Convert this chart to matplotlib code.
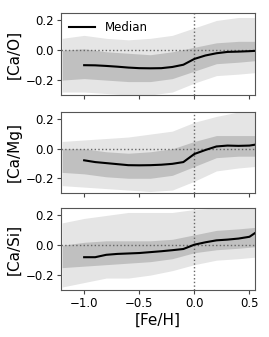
import matplotlib
matplotlib.use("Agg")
import matplotlib.pyplot as plt

# [Fe/H] grid for the median curves
feh_med = [-1.0, -0.9, -0.8, -0.7, -0.6, -0.5, -0.4, -0.3, -0.2, -0.1,
           0.0, 0.1, 0.2, 0.3, 0.4, 0.5, 0.55]

ca_o_med = [-0.100, -0.101, -0.105, -0.110, -0.116, -0.120, -0.121, -0.120,
            -0.112, -0.097, -0.058, -0.035, -0.020, -0.011, -0.009, -0.006, -0.004]
ca_mg_med = [-0.078, -0.090, -0.097, -0.104, -0.111, -0.112, -0.111, -0.108,
             -0.102, -0.090, -0.035, -0.008, 0.016, 0.022, 0.020, 0.022, 0.028]
ca_si_med = [-0.080, -0.080, -0.064, -0.058, -0.055, -0.052, -0.046, -0.040,
             -0.033, -0.025, 0.004, 0.020, 0.033, 0.038, 0.045, 0.057, 0.082]

# [Fe/H] grid for the spread of the star cloud
feh_cloud = [-1.2, -1.0, -0.8, -0.6, -0.4, -0.2, 0.0, 0.2, 0.4, 0.55]

ca_o_outer_lo = [-0.28, -0.28, -0.29, -0.30, -0.30, -0.28, -0.22, -0.17, -0.16, -0.15]
ca_o_outer_hi = [0.08, 0.10, 0.08, 0.07, 0.08, 0.10, 0.15, 0.20, 0.22, 0.22]
ca_o_inner_lo = [-0.20, -0.19, -0.20, -0.21, -0.21, -0.19, -0.14, -0.09, -0.08, -0.07]
ca_o_inner_hi = [0.00, 0.01, -0.01, -0.02, -0.03, -0.01, 0.02, 0.05, 0.06, 0.06]

ca_mg_outer_lo = [-0.25, -0.26, -0.27, -0.28, -0.29, -0.28, -0.22, -0.15, -0.13, -0.12]
ca_mg_outer_hi = [0.05, 0.06, 0.07, 0.08, 0.10, 0.12, 0.18, 0.22, 0.25, 0.25]
ca_mg_inner_lo = [-0.16, -0.17, -0.19, -0.20, -0.20, -0.18, -0.12, -0.06, -0.05, -0.05]
ca_mg_inner_hi = [0.00, 0.00, -0.02, -0.03, -0.02, 0.00, 0.05, 0.09, 0.09, 0.09]

ca_si_outer_lo = [-0.28, -0.25, -0.22, -0.22, -0.20, -0.17, -0.13, -0.10, -0.09, -0.08]
ca_si_outer_hi = [0.15, 0.18, 0.20, 0.22, 0.22, 0.22, 0.24, 0.25, 0.25, 0.25]
ca_si_inner_lo = [-0.15, -0.14, -0.13, -0.12, -0.11, -0.09, -0.05, -0.03, -0.02, -0.01]
ca_si_inner_hi = [0.00, 0.02, 0.03, 0.03, 0.03, 0.04, 0.07, 0.10, 0.11, 0.12]

panels = [
    ("[Ca/O]", ca_o_med, ca_o_outer_lo, ca_o_outer_hi, ca_o_inner_lo, ca_o_inner_hi),
    ("[Ca/Mg]", ca_mg_med, ca_mg_outer_lo, ca_mg_outer_hi, ca_mg_inner_lo, ca_mg_inner_hi),
    ("[Ca/Si]", ca_si_med, ca_si_outer_lo, ca_si_outer_hi, ca_si_inner_lo, ca_si_inner_hi),
]

fig = plt.figure(figsize=(2.69, 3.37), dpi=100)

# axes boxes in pixels: left 61, right 255; tops/bottoms per panel
boxes = [(13, 95), (112, 193), (208, 290)]

for i, (label, med, olo, ohi, ilo, ihi) in enumerate(panels):
    top, bot = boxes[i]
    ax = fig.add_axes([61 / 269, 1 - bot / 337, (255 - 61) / 269, (bot - top) / 337])

    # star cloud: outer sparse envelope and denser core
    ax.fill_between(feh_cloud, olo, ohi, color="#d4d4d4", alpha=0.6, lw=0)
    ax.fill_between(feh_cloud, ilo, ihi, color="#a8a8a8", alpha=0.6, lw=0)

    ax.axhline(0, color="#666666", ls=":", lw=1)
    ax.axvline(0, color="#666666", ls=":", lw=1)
    ax.plot(feh_med, med, color="black", lw=1.5, label="Median")

    ax.set_xlim(-1.21, 0.55)
    ax.set_ylim(-0.3, 0.25)
    ax.set_yticks([-0.2, 0.0, 0.2])
    ax.set_xticks([-1.0, -0.5, 0.0, 0.5])
    ax.set_ylabel(label, fontsize=11, labelpad=3)
    ax.tick_params(labelsize=8.5, length=3, width=0.8, color="#444444", pad=2)
    for s in ax.spines.values():
        s.set_color("#555555")
        s.set_linewidth(0.8)

    if i < 2:
        ax.set_xticklabels([])
    else:
        ax.set_xlabel("[Fe/H]", fontsize=11, labelpad=2)
    if i == 0:
        ax.legend(loc="upper left", frameon=False, fontsize=8.5, handlelength=2.2,
                  borderaxespad=0.3)

fig.savefig("out.png", dpi=100)
